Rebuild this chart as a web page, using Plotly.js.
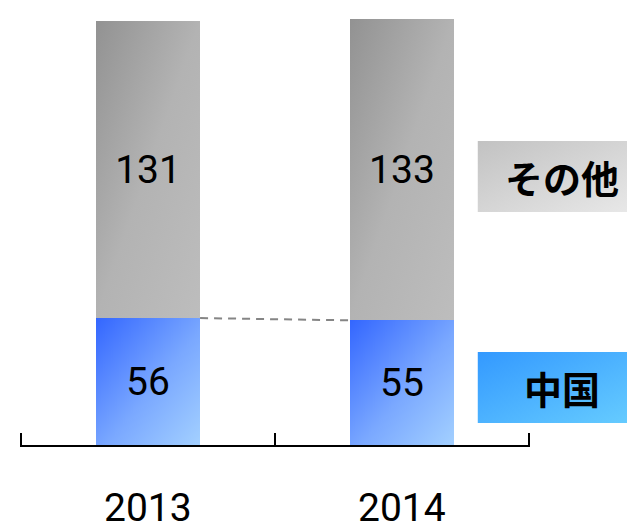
<!DOCTYPE html>
<html>
<head>
<meta charset="utf-8">
<script src="https://cdn.plot.ly/plotly-3.0.1.min.js"></script>
<style>
  html, body { margin: 0; padding: 0; background: #ffffff; }
  #chart { width: 627px; height: 531px; }
</style>
</head>
<body>
<div id="chart"></div>
<script>
// ---- data ----
const years = ["2013", "2014"];
const seriesNames = ["中国", "その他"];
const chinaValues = [56, 55];
const otherValues = [131, 133];

// ---- styling ----
const xIdx = years.map((_, i) => i);
const barWidth = 0.41;
const numFont = "Roboto, 'Liberation Sans', sans-serif";
const cjkFont = "'Noto Sans CJK JP', 'Noto Sans CJK SC', sans-serif";

const traces = [
  {
    type: "bar", name: seriesNames[0], x: xIdx, y: chinaValues, width: barWidth,
    marker: { color: "#6f9bff", line: { width: 0 } },
    text: chinaValues.map(String), textposition: "inside", insidetextanchor: "middle",
    constraintext: "none",
    insidetextfont: { family: numFont, size: 39, color: "#000000" },
    hoverinfo: "skip"
  },
  {
    type: "bar", name: seriesNames[1], x: xIdx, y: otherValues, width: barWidth,
    marker: { color: "#a8a8a8", line: { width: 0 } },
    text: otherValues.map(String), textposition: "inside", insidetextanchor: "middle",
    constraintext: "none",
    insidetextfont: { family: numFont, size: 39, color: "#000000" },
    hoverinfo: "skip"
  },
  {
    type: "scatter", mode: "lines",
    x: [xIdx[0] + barWidth / 2, xIdx[1] - barWidth / 2],
    y: [chinaValues[0], chinaValues[1]],
    line: { color: "#858585", width: 2, dash: "8px,6px" },
    hoverinfo: "skip"
  }
];

const boxX0 = 0.8976, boxX1 = 1.2;
const eps = 0.004;
const layout = {
  width: 627, height: 531,
  margin: { l: 20, r: 97, t: 3, b: 86 },
  paper_bgcolor: "#ffffff", plot_bgcolor: "#ffffff",
  barmode: "stack",
  showlegend: false,
  hovermode: false,
  xaxis: {
    type: "linear", range: [-0.5 - eps, 1.5 + eps],
    tickvals: [-0.5, 0.5, 1.5], ticktext: ["", "", ""],
    ticks: "inside", ticklen: 12, tickwidth: 2, tickcolor: "#000000",
    showline: true, linewidth: 2, linecolor: "#000000",
    showgrid: false, zeroline: false, fixedrange: true
  },
  yaxis: { range: [0, 195], visible: false, showgrid: false, zeroline: false, fixedrange: true },
  shapes: [
    { type: "rect", xref: "paper", yref: "paper", x0: boxX0, x1: boxX1, y0: 0.5271, y1: 0.6878,
      fillcolor: "#d4d4d4", line: { width: 0 }, layer: "below" },
    { type: "rect", xref: "paper", yref: "paper", x0: boxX0, x1: boxX1, y0: 0.0498, y1: 0.2104,
      fillcolor: "#4db3ff", line: { width: 0 }, layer: "below" }
  ],
  annotations: [
    ...years.map((yr, i) => ({
      x: xIdx[i], xref: "x", y: -0.1425, yref: "paper",
      text: yr, showarrow: false, xanchor: "center", yanchor: "middle",
      font: { family: numFont, size: 39, color: "#000000" }
    })),
    { x: 1.062, xref: "paper", y: 0.6075, yref: "paper", text: "<b>" + seriesNames[1] + "</b>",
      showarrow: false, xanchor: "center", yanchor: "middle",
      font: { family: cjkFont, size: 38, color: "#000000" } },
    { x: 1.062, xref: "paper", y: 0.130, yref: "paper", text: "<b>" + seriesNames[0] + "</b>",
      showarrow: false, xanchor: "center", yanchor: "middle",
      font: { family: cjkFont, size: 38, color: "#000000" } }
  ]
};

function addGradient(defs, id, stops) {
  const ns = "http://www.w3.org/2000/svg";
  const g = document.createElementNS(ns, "linearGradient");
  g.setAttribute("id", id);
  g.setAttribute("x1", "0"); g.setAttribute("y1", "0");
  g.setAttribute("x2", "1"); g.setAttribute("y2", "1");
  stops.forEach(([off, col]) => {
    const s = document.createElementNS(ns, "stop");
    s.setAttribute("offset", off);
    s.setAttribute("stop-color", col);
    g.appendChild(s);
  });
  defs.appendChild(g);
}

const gd = document.getElementById("chart");
Plotly.newPlot(gd, traces, layout, { displayModeBar: false, staticPlot: true }).then(() => {
  const svg = gd.querySelector("svg.main-svg");
  const ns = "http://www.w3.org/2000/svg";
  const defs = document.createElementNS(ns, "defs");
  svg.insertBefore(defs, svg.firstChild);
  addGradient(defs, "gBlueBar", [["0", "#3366ff"], ["0.55", "#7aa8ff"], ["1", "#a3d0ff"]]);
  addGradient(defs, "gGrayBar", [["0", "#929292"], ["0.5", "#b3b3b3"], ["1", "#bdbdbd"]]);
  addGradient(defs, "gGrayBox", [["0", "#c2c2c2"], ["1", "#e8e8e8"]]);
  addGradient(defs, "gBlueBox", [["0", "#3399ff"], ["1", "#66ccff"]]);

  const barTraces = gd.querySelectorAll(".barlayer .trace");
  const fills = ["url(#gBlueBar)", "url(#gGrayBar)"];
  barTraces.forEach((t, i) => {
    t.querySelectorAll(".point path").forEach(p => { p.style.fill = fills[i]; });
  });
  const shapeFills = ["url(#gGrayBox)", "url(#gBlueBox)"];
  gd.querySelectorAll(".shapelayer path[data-index]").forEach(p => {
    const idx = +p.getAttribute("data-index");
    if (shapeFills[idx]) p.style.fill = shapeFills[idx];
  });
});
</script>
</body>
</html>
